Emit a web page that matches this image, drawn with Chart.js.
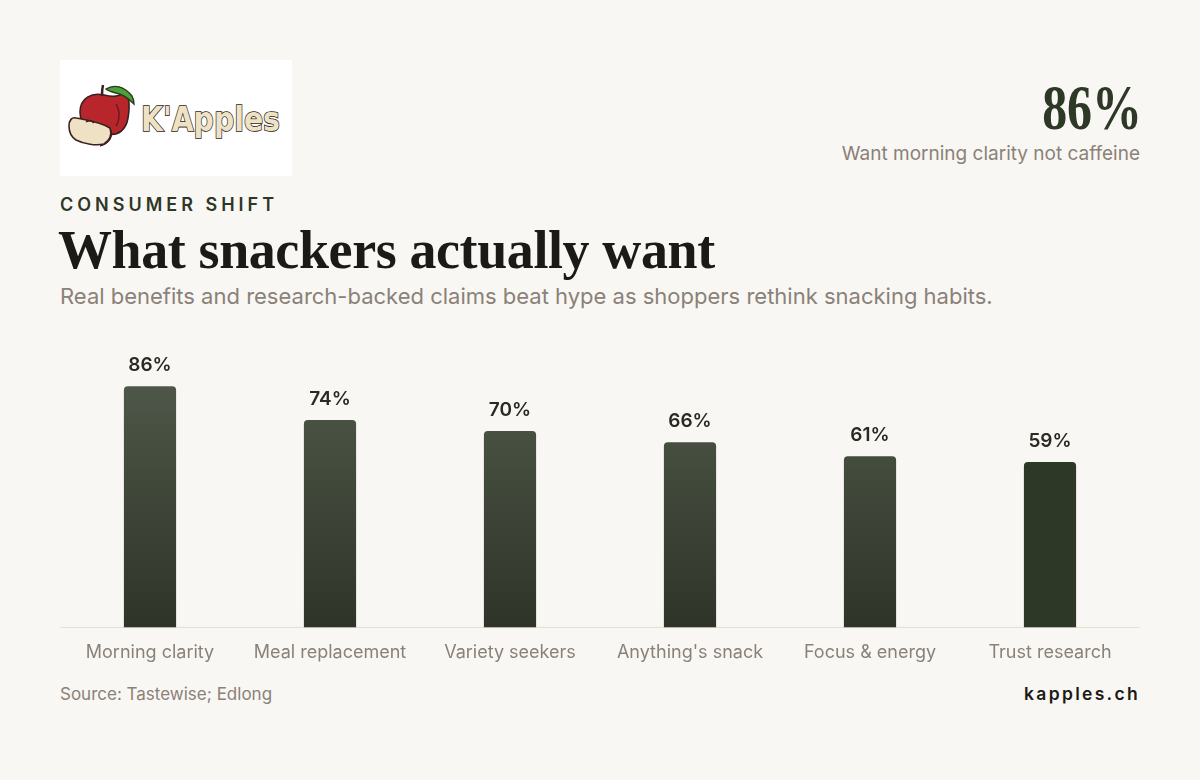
<!DOCTYPE html>
<html>
<head>
<meta charset="utf-8">
<script src="https://cdn.jsdelivr.net/npm/chart.js@4"></script>
<style>
  html, body { margin: 0; padding: 0; }
  body { width: 1200px; height: 780px; background: #f9f7f3; position: relative; overflow: hidden; font-family: Inter, sans-serif; }
  .abs { position: absolute; white-space: nowrap; }
  #logo { left: 60px; top: 60px; width: 232px; height: 116px; background: #ffffff; }
  #bigStat { right: 58px; top: 70px; font-family: "Liberation Serif", serif; font-weight: 700; font-size: 64px; line-height: 76px; color: #2d3826; transform: scaleX(0.78); transform-origin: right center; }
  #bigStatLabel { right: 60px; top: 142px; font-size: 19px; line-height: 24px; color: #8a8178; }
  #kicker { left: 60px; top: 193px; font-size: 18px; font-weight: 600; letter-spacing: 4px; line-height: 24px; color: #2d3826; }
  #title { left: 58px; top: 218px; font-family: "Liberation Serif", serif; font-weight: 700; font-size: 54px; line-height: 64px; color: #1c1a16; letter-spacing: -0.4px; }
  #subtitle { left: 60px; top: 282px; font-size: 22px; line-height: 28px; color: #8a8178; }
  #chartBox { left: 60px; top: 340px; width: 1080px; height: 329px; }
  #source { left: 60px; top: 683px; font-size: 17px; line-height: 22px; color: #8a8178; }
  #site { right: 60px; top: 682px; font-size: 17.5px; font-weight: 600; letter-spacing: 2.3px; line-height: 24px; color: #1c1a16; }
</style>
</head>
<body>
<div id="logo" class="abs">
  <svg width="232" height="116" viewBox="0 0 232 116">
    <!-- apple -->
    <path d="M20 52 C20 38 32 32 44 35 C52 37 56 37 62 34 C70 32 70 46 68 58 C66 70 58 76 48 74 C40 73 36 74 30 72 C24 68 20 60 20 52 Z" fill="#b8262c" stroke="#3a2020" stroke-width="1.6"/>
    <path d="M42 36 C42 31 42 29 43 25" stroke="#3a2020" stroke-width="2.5" fill="none"/>
    <path d="M46 29 C54 24 64 26 72 36 C74 40 74 42 74 44 C68 38 62 34 56 33 C52 32 48 31 46 29 Z" fill="#4ca23a" stroke="#2a3a1a" stroke-width="1.4"/>
    <path d="M56 44 C60 50 60 60 56 66" stroke="#6a1a1e" stroke-width="1.4" fill="none"/>
    <!-- slice -->
    <path d="M9 66 C9 60 12 57 16 58 C26 60 40 62 50 68 C52 74 50 80 44 84 C36 86 24 84 16 80 C10 76 9 70 9 66 Z" fill="#efe2c4" stroke="#3a2020" stroke-width="1.6"/>
    <path d="M50 68 C54 76 50 84 40 86 C46 84 50 80 52 74 Z" fill="#8a1e22" stroke="#3a2020" stroke-width="1"/>
    <path d="M26 62 C29 60 32 61 34 63" stroke="#3a2020" stroke-width="1.5" fill="none"/>
    <text x="81" y="71" textLength="139" lengthAdjust="spacingAndGlyphs" font-family="'DejaVu Sans', sans-serif" font-weight="700" font-size="34" fill="#efe2c4" stroke="#2a2420" stroke-width="1.6" paint-order="stroke">K'Apples</text>
  </svg>
</div>
<div id="bigStat" class="abs">86%</div>
<div id="bigStatLabel" class="abs">Want morning clarity not caffeine</div>
<div id="kicker" class="abs">CONSUMER SHIFT</div>
<div id="title" class="abs">What snackers actually want</div>
<div id="subtitle" class="abs">Real benefits and research-backed claims beat hype as shoppers rethink snacking habits.</div>
<div id="chartBox" class="abs"><canvas id="mainChart"></canvas></div>
<div id="source" class="abs">Source: Tastewise; Edlong</div>
<div id="site" class="abs">kapples.ch</div>

<script>
// ===== DATA =====
const categories = ['Morning clarity', 'Meal replacement', 'Variety seekers', "Anything's snack", 'Focus & energy', 'Trust research'];
const shares = [86, 74, 70, 66, 61, 59];
const highlightIndex = 5;

// ===== VALUE LABELS =====
const valueLabels = {
    id: 'valueLabels',
    afterDatasetsDraw(chart) {
        const ctx = chart.ctx;
        const meta = chart.getDatasetMeta(0);
        ctx.save();
        ctx.font = '600 19px Inter';
        ctx.fillStyle = '#2a2a22';
        ctx.textAlign = 'center';
        ctx.textBaseline = 'middle';
        meta.data.forEach((bar, i) => {
            ctx.fillText(shares[i] + '%', bar.x, bar.y - 21);
        });
        ctx.restore();
    }
};

function barFill(context) {
    if (context.dataIndex === highlightIndex) return '#2d3826';
    const area = context.chart.chartArea;
    if (!area) return '#4a5245';
    const g = context.chart.ctx.createLinearGradient(0, area.top, 0, area.bottom);
    g.addColorStop(0, '#525c4d');
    g.addColorStop(1, '#2f3428');
    return g;
}

// ===== MAIN CHART =====
const mainCtx = document.getElementById('mainChart');
if (mainCtx) {
    new Chart(mainCtx, {
        type: 'bar',
        data: {
            labels: categories,
            datasets: [{
                label: 'Share',
                data: shares,
                backgroundColor: barFill,
                borderRadius: { topLeft: 4, topRight: 4 },
                borderSkipped: 'bottom',
                barPercentage: 0.29,
                categoryPercentage: 1
            }]
        },
        options: {
            responsive: true,
            maintainAspectRatio: false,
            animation: false,
            layout: { padding: { top: 7, left: 0, right: 0, bottom: 0 } },
            plugins: {
                legend: { display: false },
                tooltip: { enabled: false }
            },
            scales: {
                x: {
                    grid: { display: false },
                    border: { display: true, color: '#e6ded4', width: 1 },
                    ticks: { color: '#8a8178', font: { family: 'Inter', size: 18 }, padding: 6 }
                },
                y: {
                    display: false,
                    min: 0,
                    max: 100
                }
            }
        },
        plugins: [valueLabels]
    });
}
</script>
</body>
</html>
